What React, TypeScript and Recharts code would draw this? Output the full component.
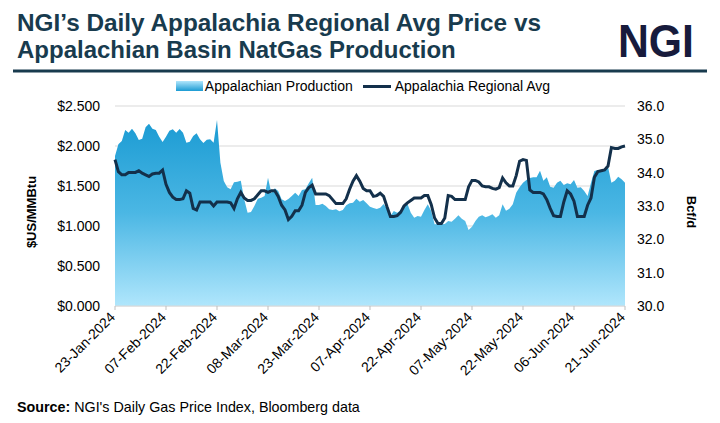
import React from 'react';
import { ComposedChart, Area, Line, XAxis, YAxis, CartesianGrid, Legend } from 'recharts';

// daily series, 23-Jan-2024 .. 21-Jun-2024
const MONTHS = ['Jan', 'Feb', 'Mar', 'Apr', 'May', 'Jun', 'Jul', 'Aug', 'Sep', 'Oct', 'Nov', 'Dec'];

const tickLabels = [
  '23-Jan-2024', '07-Feb-2024', '22-Feb-2024', '08-Mar-2024', '23-Mar-2024', '07-Apr-2024',
  '22-Apr-2024', '07-May-2024', '22-May-2024', '06-Jun-2024', '21-Jun-2024',
];

const priceTicks = [0, 0.5, 1, 1.5, 2, 2.5];
const productionTicks = [30, 31, 32, 33, 34, 35, 36];

// Appalachia Regional Avg, $US/MMBtu
const priceValues = [
  1.83, 1.68, 1.64, 1.64, 1.67, 1.67, 1.67, 1.69, 1.66, 1.64,
  1.62, 1.65, 1.66, 1.66, 1.70, 1.52, 1.42, 1.36, 1.33, 1.33,
  1.34, 1.44, 1.41, 1.22, 1.20, 1.30, 1.30, 1.30, 1.30, 1.25,
  1.30, 1.30, 1.30, 1.30, 1.29, 1.22, 1.34, 1.42, 1.35, 1.32,
  1.32, 1.34, 1.39, 1.44, 1.44, 1.42, 1.44, 1.44, 1.37, 1.26,
  1.20, 1.08, 1.12, 1.19, 1.19, 1.26, 1.42, 1.48, 1.51, 1.40,
  1.40, 1.40, 1.40, 1.38, 1.33, 1.28, 1.28, 1.28, 1.34, 1.46,
  1.56, 1.63, 1.56, 1.47, 1.44, 1.44, 1.37, 1.38, 1.41, 1.37,
  1.24, 1.12, 1.12, 1.13, 1.17, 1.25, 1.29, 1.32, 1.35, 1.35,
  1.35, 1.38, 1.38, 1.27, 1.10, 1.03, 1.03, 1.10, 1.38, 1.37,
  1.33, 1.33, 1.33, 1.33, 1.49, 1.57, 1.57, 1.55, 1.50, 1.49,
  1.49, 1.47, 1.46, 1.48, 1.60, 1.54, 1.50, 1.50, 1.63, 1.81,
  1.83, 1.82, 1.45, 1.42, 1.42, 1.42, 1.40, 1.33, 1.22, 1.13,
  1.12, 1.12, 1.30, 1.44, 1.40, 1.31, 1.12, 1.12, 1.12, 1.26,
  1.35, 1.61, 1.68, 1.69, 1.70, 1.75, 1.98, 1.97, 1.97, 1.99, 2.00,
];

// Appalachian Production, Bcf/d
const productionValues = [
  34.50, 34.85, 34.95, 35.28, 35.20, 35.32, 35.18, 34.98, 35.02, 35.36,
  35.47, 35.32, 35.28, 35.08, 34.92, 35.08, 35.26, 35.30, 35.20, 35.31,
  35.20, 34.90, 34.93, 35.10, 35.18, 35.00, 34.89, 34.99, 35.00, 34.90,
  35.58, 34.30, 33.75, 33.56, 33.50, 33.71, 33.73, 33.76, 33.20, 32.80,
  32.82, 33.00, 33.22, 33.25, 33.30, 33.85, 33.38, 33.53, 33.45, 33.20,
  33.15, 33.21, 33.30, 33.40, 33.30, 33.48, 33.50, 33.68, 33.85, 33.03,
  33.03, 33.07, 33.00, 32.90, 32.88, 32.90, 32.84, 32.88, 33.02, 33.08,
  33.10, 33.22, 33.13, 33.18, 33.08, 32.98, 32.94, 32.91, 32.95, 33.06,
  32.92, 32.70, 32.85, 32.80, 32.87, 32.97, 33.07, 32.80, 32.65, 32.70,
  32.68, 32.88, 33.05, 32.85, 32.45, 32.46, 32.45, 32.46, 32.55, 32.53,
  32.62, 32.72, 32.62, 32.55, 32.28, 32.38, 32.55, 32.68, 32.72, 32.66,
  32.70, 32.75, 32.65, 32.72, 33.05, 32.86, 32.92, 33.05, 33.40, 33.56,
  33.70, 33.78, 33.84, 33.86, 33.86, 34.06, 33.76, 33.86, 33.58, 33.55,
  33.70, 33.76, 33.63, 33.68, 33.65, 33.78, 33.55, 33.56, 33.45, 33.30,
  33.70, 34.05, 34.08, 34.08, 34.10, 34.18, 33.70, 33.76, 33.88, 33.80, 33.70,
];

const FONT = '"Liberation Sans", Arial, sans-serif';
const TITLE_COLOR = '#183B4E';
const LINE_COLOR = '#13304B';

function dayLabel(i: number) {
  const d = new Date(Date.UTC(2024, 0, 23 + i));
  return `${String(d.getUTCDate()).padStart(2, '0')}-${MONTHS[d.getUTCMonth()]}-${d.getUTCFullYear()}`;
}

const data = priceValues.map((price, i) => ({
  date: dayLabel(i),
  price,
  production: productionValues[i],
}));

const DateTick = ({ x, y, payload }: any) => (
  <text
    x={x + 1}
    y={y + 6}
    transform={`rotate(-45, ${x + 1}, ${y + 6})`}
    textAnchor="end"
    fontSize={14}
    fill="#000"
    fontFamily={FONT}
  >
    {payload.value}
  </text>
);

const ChartLegend = () => (
  <div style={{ display: 'flex', justifyContent: 'center', alignItems: 'center', fontSize: 14, color: '#000', fontFamily: FONT, paddingLeft: 6 }}>
    <span style={{ display: 'inline-block', width: 27, height: 10, background: 'linear-gradient(#B0E6FC, #1B9BD3)', marginRight: 2 }} />
    <span style={{ marginRight: 10 }}>Appalachian Production</span>
    <span style={{ display: 'inline-block', width: 28, height: 3, background: LINE_COLOR, marginRight: 4 }} />
    <span>Appalachia Regional Avg</span>
  </div>
);

export default function App() {
  return (
    <div style={{ position: 'absolute', left: 0, top: 0, width: 720, height: 423, background: '#fff', fontFamily: FONT, overflow: 'hidden' }}>
      <svg width={720} height={75} style={{ position: 'absolute', left: 0, top: 0 }}>
        <text x={17} y={31} fontSize={24} fontWeight="bold" fill={TITLE_COLOR} fontFamily={FONT} textLength={524} lengthAdjust="spacingAndGlyphs">
          NGI’s Daily Appalachia Regional Avg Price vs
        </text>
        <text x={17} y={58} fontSize={24} fontWeight="bold" fill={TITLE_COLOR} fontFamily={FONT}>
          Appalachian Basin NatGas Production
        </text>
        <text x={618} y={57} fontSize={46} fontWeight="bold" fill="#171B3C" fontFamily={FONT} textLength={76} lengthAdjust="spacingAndGlyphs">
          NGI
        </text>
        <line x1={13} y1={71} x2={707} y2={71} stroke={TITLE_COLOR} strokeWidth={3} />
      </svg>

      <div style={{ position: 'absolute', left: 0, top: 0 }}>
        <ComposedChart width={720} height={423} data={data} margin={{ top: 106, right: 0, bottom: 27, left: 0 }}>
          <defs>
            <linearGradient id="prodFill" x1="0" y1="0" x2="0" y2="1">
              <stop offset="0%" stopColor="#1B9BD3" />
              <stop offset="50%" stopColor="#4BB7E4" />
              <stop offset="100%" stopColor="#B0E6FC" />
            </linearGradient>
          </defs>
          <CartesianGrid yAxisId="left" vertical={false} stroke="#D9D9D9" />
          <XAxis
            dataKey="date"
            ticks={tickLabels}
            interval={0}
            height={90}
            tick={<DateTick />}
            tickSize={4}
            tickLine={{ stroke: '#BFBFBF' }}
            axisLine={{ stroke: '#D9D9D9' }}
          />
          <YAxis
            yAxisId="left"
            width={115}
            domain={[0, 2.5]}
            ticks={priceTicks}
            tickFormatter={(v: number) => `$${v.toFixed(3)}`}
            axisLine={false}
            tickLine={false}
            tickSize={0}
            tickMargin={15}
            tick={{ fontSize: 14, fill: '#000', fontFamily: FONT }}
            label={{
              content: () => (
                <text x={36} y={212} transform="rotate(-90, 36, 212)" textAnchor="middle" fontSize={13} fontWeight="bold" fill="#000" fontFamily={FONT}>
                  $US/MMBtu
                </text>
              ),
            }}
          />
          <YAxis
            yAxisId="right"
            orientation="right"
            width={95}
            domain={[30, 36]}
            ticks={productionTicks}
            tickFormatter={(v: number) => v.toFixed(1)}
            axisLine={false}
            tickLine={false}
            tickSize={0}
            tickMargin={12}
            tick={{ fontSize: 14, fill: '#000', fontFamily: FONT }}
            label={{
              content: () => (
                <text x={687} y={212} transform="rotate(90, 687, 212)" textAnchor="middle" fontSize={13} fontWeight="bold" fill="#000" fontFamily={FONT}>
                  Bcf/d
                </text>
              ),
            }}
          />
          <Legend verticalAlign="middle" align="center" wrapperStyle={{ top: 78, left: 0, width: 720 }} content={<ChartLegend />} />
          <Area
            yAxisId="right"
            type="linear"
            dataKey="production"
            name="Appalachian Production"
            stroke="none"
            fill="url(#prodFill)"
            fillOpacity={1}
            isAnimationActive={false}
          />
          <Line
            yAxisId="left"
            type="linear"
            dataKey="price"
            name="Appalachia Regional Avg"
            stroke={LINE_COLOR}
            strokeWidth={3}
            dot={false}
            activeDot={false}
            isAnimationActive={false}
          />
        </ComposedChart>
      </div>

      <div style={{ position: 'absolute', left: 17, top: 399, fontSize: 14.3, color: '#000', whiteSpace: 'nowrap' }}>
        <b>Source:</b> NGI's Daily Gas Price Index, Bloomberg data
      </div>
    </div>
  );
}
